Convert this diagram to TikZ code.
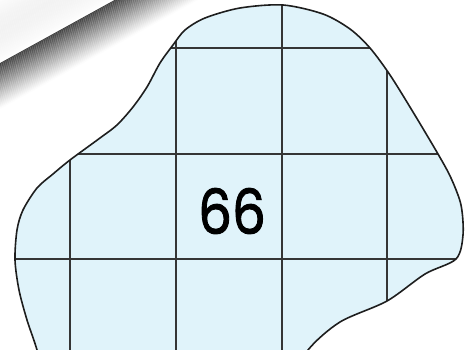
\documentclass[tikz,border=0pt]{standalone}
\usepackage{fontspec}
\usetikzlibrary{calc}
\setmainfont{Poppins}
\newfontfamily\numfont{Poppins}[FakeBold=1.6]
\definecolor{blobfill}{RGB}{224,243,250}
\definecolor{lineink}{RGB}{30,30,30}
\begin{document}
\begin{tikzpicture}[x=1pt,y=-1pt,
  outline/.style={draw=lineink,line width=1.6pt},
  gridline/.style={draw=lineink!90,line width=1.3pt},
  numlabel/.style={font=\numfont\fontsize{62}{62}\selectfont,text=black,inner sep=0pt}]
\useasboundingbox (0,0) rectangle (473,350);
\fill[white] (0,0) rectangle (473,350);
% page-curl shadow in the top left corner
\coordinate (sa) at (-70,101.6);
\coordinate (sb) at (219,-57.5);
\coordinate (sn) at (0.482,0.876);
\foreach \i in {1,...,60} {
  \pgfmathsetmacro{\shadeval}{5*sin(180*\i/60)}
  \fill[black!\shadeval] ($(sa)-\i*(sn)$) -- ($(sb)-\i*(sn)$) -- ($(sb)-\i*(sn)+1.05*(sn)$) -- ($(sa)-\i*(sn)+1.05*(sn)$) -- cycle;
}
\foreach \i in {0,...,39} {
  \pgfmathsetmacro{\shadeval}{74*(1-\i/40)^1.1}
  \fill[black!\shadeval] ($(sa)+\i*(sn)$) -- ($(sb)+\i*(sn)$) -- ($(sb)+\i*(sn)+1.05*(sn)$) -- ($(sa)+\i*(sn)+1.05*(sn)$) -- cycle;
}
% blob
\def\blobpath{plot[smooth cycle,tension=0.5] coordinates {
  (283,5) (323,14) (350,29) (370,48) (390,75) (413,112) (438,154)
  (451,178) (461,205) (463,235) (456,259) (425,274) (387,301) (340,322)
  (308,350) (290,385) (45,385) (37,350) (27,320) (19,290) (15,260)
  (17,230) (23,210) (37,188) (53,174) (70,160) (100,138) (117,125)
  (133,107) (147,87) (160,63) (173,45) (185,30) (205,18) (240,8)}}
\fill[blobfill] \blobpath;
\begin{scope}
  \clip \blobpath;
  \foreach \gx in {70,176,282,387} \draw[gridline] (\gx,0) -- (\gx,350);
  \foreach \gy in {48,154,259} \draw[gridline] (0,\gy) -- (473,\gy);
\end{scope}
\draw[outline] \blobpath;
\node[numlabel] (num) at (232,211) {\scalebox{0.86}[1]{66}};
\end{tikzpicture}
\end{document}
